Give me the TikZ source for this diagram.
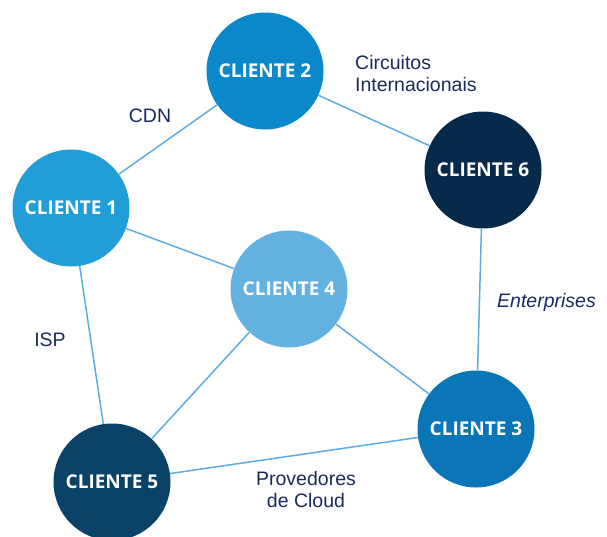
\documentclass[tikz,border=0pt]{standalone}
\usepackage{fontspec}
\setmainfont{Open Sans}
\newfontfamily\labelfont{Liberation Sans}
\definecolor{linkblue}{HTML}{5DADE2}
\definecolor{labelnavy}{HTML}{1B2A5C}
\definecolor{cblue}{HTML}{0A88C9}
\definecolor{cmid}{HTML}{219DD8}
\definecolor{clight}{HTML}{62B1E1}
\definecolor{cdeep}{HTML}{0A76B7}
\definecolor{cnavy}{HTML}{072A4A}
\definecolor{cdark}{HTML}{0A4268}
\begin{document}
\begin{tikzpicture}[
  x=1pt, y=-1pt,
  client/.style={circle, minimum size=117pt, inner sep=0pt, text=white, font=\fontsize{19}{20}\selectfont\bfseries},
  link/.style={draw=linkblue, line width=1.5pt},
  tag/.style={text=labelnavy, font=\labelfont\fontsize{19.5}{22}\selectfont, align=center, inner sep=0pt}
]
\useasboundingbox (0,0) rectangle (607,536);

\node[client, fill=cblue] (c2) at (265,71) {CLIENTE 2};
\node[client, fill=cmid] (c1) at (71,208) {CLIENTE 1};
\node[client, fill=cnavy] (c6) at (483,170) {CLIENTE 6};
\node[client, fill=clight] (c4) at (289,289) {CLIENTE 4};
\node[client, fill=cdeep] (c3) at (476,429) {CLIENTE 3};
\node[client, fill=cdark] (c5) at (112,482) {CLIENTE 5};

\draw[link] (c2) -- (c1);
\draw[link] (c2) -- (c6);
\draw[link] (c1) -- (c4);
\draw[link] (c1) -- (c5);
\draw[link] (c6) -- (c3);
\draw[link] (c4) -- (c3);
\draw[link] (c4) -- (c5);
\draw[link] (c5) -- (c3);

\node[tag] (cdn) at (150,116) {CDN};
\node[tag, align=left, anchor=west] (circ) at (355,74) {Circuitos\\Internacionais};
\node[tag, anchor=west, font=\labelfont\fontsize{19.5}{22}\selectfont\itshape] (ent) at (497,302) {Enterprises};
\node[tag] (isp) at (50,340) {ISP};
\node[tag] (cloud) at (306,490) {Provedores\\de Cloud};
\end{tikzpicture}
\end{document}
